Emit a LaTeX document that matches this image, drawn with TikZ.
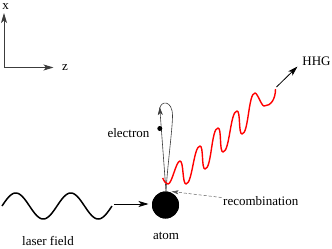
\documentclass[tikz,border=0pt]{standalone}
\usepackage{fontspec}
\setmainfont{Liberation Serif}
\usetikzlibrary{arrows.meta}
\definecolor{hhgred}{RGB}{255,0,0}
\definecolor{inkgray}{RGB}{60,60,60}
\definecolor{dashgray}{RGB}{90,90,90}

\begin{document}
\begin{tikzpicture}[x=1pt, y=-1pt,
  lab/.style={font=\fontsize{13}{15}\selectfont, inner sep=0pt},
  tip/.style={-{Stealth[length=10pt, width=6pt, inset=2.5pt]}},
  smalltip/.style={-{Stealth[length=8pt, width=5pt, inset=2pt]}},
  axisline/.style={draw=inkgray, line width=0.9pt, tip},
  orbit/.style={draw=inkgray, line width=0.6pt},
  photon/.style={draw=hhgred, line width=1.4pt, line join=round},
  wv/.style={out=0, in=180, looseness=0.4}]
\useasboundingbox (0,0) rectangle (332,249);
% axes
\coordinate (o) at (4,67.5);
\coordinate (xtip) at (4,13);
\coordinate (ztip) at (53.5,67.5);
\draw[axisline] (o) -- (xtip);
\draw[axisline] (o) -- (ztip);
\node[lab] (xlab) at (5.5,6.5) {x};
\node[lab] (zlab) at (65,67.5) {z};
% electron trajectory
\node[circle, fill=black, minimum size=27pt, inner sep=0pt] (atom) at (165.5,205) {};
\coordinate (lb) at (166,191.5);
\coordinate (ltip) at (159.7,107);
\draw[orbit, smalltip] (lb) -- (ltip);
\draw[orbit] (159.7,109) .. controls (160.3,100.5) and (172.6,99.5) .. (172.5,116)
  .. controls (172.4,130) and (167.5,165) .. (lb);
\node[circle, fill=black, minimum size=5pt, inner sep=0pt] (el) at (159.8,128.5) {};
\node[lab] (ellab) at (128.5,133) {electron};
% emitted harmonic
\coordinate (rw0) at (162.7,178);
\coordinate (rw1) at (275.5,89);
\draw[photon] (rw0) .. controls (164.2,181.5) and (166,184) .. (168,184)
  to[wv] (180,161) to[wv] (186,184) to[wv] (200,146) to[wv] (205,169)
  to[wv] (218,128) to[wv] (223,152) to[wv] (237,111) to[wv] (242,134)
  to[wv] (255,93) to[wv] (264,106)
  .. controls (271,106) and (275.5,99) .. (rw1);
\node[circle, fill=black, minimum size=27pt, inner sep=0pt] at (atom) {};
\coordinate (hs) at (276.5,87);
\coordinate (htip) at (297.5,66.5);
\draw[line width=0.8pt, tip] (hs) -- (htip);
\node[lab] (hhg) at (316.5,61) {HHG};
% laser field
\draw[line width=1.5pt] plot[domain=0:2, samples=120] ({2+55*\x},{206-13*sin(360*\x)});
\coordinate (las) at (114,204);
\draw[line width=0.8pt, tip] (las) -- (148.5,204);
\node[lab] (laslab) at (48,241) {laser field};
\node[lab] (atomlab) at (166,236) {atom};
% recombination
\node[lab, anchor=west] (rec) at (223,201) {recombination};
\coordinate (rtip) at (171.5,191.5);
\draw[dashgray, line width=0.5pt, dash pattern=on 3pt off 2pt, -{Stealth[length=7pt, width=4pt, inset=1.5pt]}]
  (221.5,197.5) -- (rtip);
\end{tikzpicture}
\end{document}
